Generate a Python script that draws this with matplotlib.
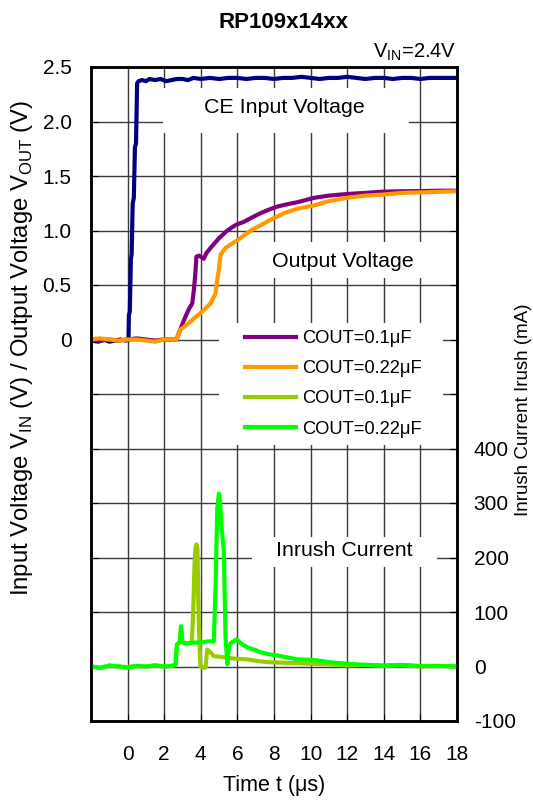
import matplotlib
matplotlib.use("Agg")
import matplotlib.pyplot as plt
from matplotlib.patches import Rectangle
import numpy as np

plt.rcParams["font.family"] = ["Liberation Sans", "DejaVu Sans"]
plt.rcParams["mathtext.fontset"] = "custom"
plt.rcParams["mathtext.rm"] = "Liberation Sans"

# CE input voltage (V)
t_ce = [-2.0, -1.6, -1.3, -1.0, -0.7, -0.4, -0.1, 0.05, 0.07, 0.12, 0.18, 0.22, 0.28, 0.34, 0.40,
        0.46, 0.52, 0.6, 0.8, 1.0, 1.2, 1.5, 1.8, 2.1, 2.4, 2.7, 3.0, 3.3, 3.6, 4.0, 4.5, 5.0,
        5.5, 6.0, 6.5, 7.0, 7.5, 8.0, 8.5, 9.0, 9.5, 10.0, 10.5, 11.0, 11.5, 12.0, 12.5, 13.0,
        13.5, 14.0, 14.5, 15.0, 15.5, 16.0, 16.5, 17.0, 17.5, 18.0]
v_ce = [-0.01, -0.02, 0.0, -0.02, -0.01, 0.0, -0.01, 0.0, 0.22, 0.26, 0.74, 0.78, 1.25, 1.30, 1.76,
        1.80, 2.35, 2.37, 2.38, 2.37, 2.39, 2.38, 2.39, 2.37, 2.38, 2.39, 2.39, 2.38, 2.40, 2.39,
        2.40, 2.39, 2.40, 2.40, 2.39, 2.40, 2.40, 2.39, 2.40, 2.40, 2.41, 2.40, 2.39, 2.40, 2.40,
        2.41, 2.40, 2.39, 2.40, 2.40, 2.39, 2.40, 2.40, 2.39, 2.40, 2.40, 2.40, 2.40]

# Output voltage, COUT=0.1uF (V)
t_out1 = [-2.0, -1.5, -1.0, -0.5, 0.0, 0.5, 1.0, 1.5, 2.0, 2.5, 2.67, 2.9, 3.16, 3.35, 3.53,
          3.62, 3.7, 3.76, 3.9, 4.16, 4.3, 4.53, 5.0, 5.45, 5.9, 6.36, 6.8, 7.28, 7.7, 8.19,
          8.7, 9.29, 10.2, 11.0, 12.0, 13.0, 13.9, 15.0, 16.2, 17.0, 18.0]
v_out1 = [0.0, -0.01, 0.0, -0.01, 0.0, 0.01, 0.0, -0.01, 0.0, 0.0, 0.0, 0.1, 0.21, 0.28, 0.33,
          0.45, 0.6, 0.76, 0.77, 0.74, 0.79, 0.84, 0.93, 1.0, 1.05, 1.08, 1.12, 1.16, 1.19, 1.22,
          1.24, 1.26, 1.30, 1.32, 1.335, 1.345, 1.356, 1.36, 1.362, 1.365, 1.365]

# Output voltage, COUT=0.22uF (V)
t_out2 = [-2.0, -1.5, -1.0, -0.5, 0.0, 0.5, 1.0, 1.5, 2.0, 2.4, 2.67, 2.88, 3.2, 3.61, 4.1,
          4.53, 4.8, 4.9, 4.99, 5.08, 5.35, 5.7, 6.0, 6.4, 6.73, 7.3, 7.83, 8.56, 9.29, 10.2,
          11.0, 12.0, 13.0, 14.0, 15.0, 16.1, 17.0, 18.0]
v_out2 = [0.0, 0.01, 0.0, -0.01, 0.0, 0.0, -0.01, -0.02, 0.0, 0.0, 0.0, 0.09, 0.13, 0.19, 0.26,
          0.33, 0.42, 0.55, 0.64, 0.78, 0.84, 0.88, 0.91, 0.96, 1.0, 1.05, 1.1, 1.16, 1.20, 1.23,
          1.27, 1.30, 1.32, 1.33, 1.345, 1.35, 1.355, 1.36]

# Inrush current, COUT=0.1uF (mA)
t_in1 = [-2.0, -1.5, -1.0, -0.5, 0.0, 0.5, 1.0, 1.5, 2.0, 2.4, 2.62, 2.7, 2.85, 2.92, 3.0, 3.2,
         3.5, 3.56, 3.6, 3.66, 3.72, 3.76, 3.82, 3.86, 3.92, 3.98, 4.1, 4.26, 4.35, 4.53, 4.71,
         5.0, 5.45, 6.0, 6.55, 7.1, 7.64, 8.5, 9.3, 10.0, 11.0, 12.0, 13.0, 14.0, 15.0, 16.0,
         17.0, 18.0]
i_in1 = [0, -2, 1, 0, -1, 1, 0, 2, 0, 1, 3, 40, 45, 72, 45, 42, 44, 80, 117, 190, 221, 224, 215,
         120, 50, 0, -2, -2, 31, 26, 19, 18, 16, 14, 13, 10, 8, 7, 6, 5, 4, 2, 3, 1, 2, 0, 1, 0]

# Inrush current, COUT=0.22uF (mA)
t_in2 = [-2.0, -1.5, -1.0, -0.5, 0.0, 0.5, 1.0, 1.5, 2.0, 2.4, 2.62, 2.7, 2.85, 2.92, 3.0, 3.2,
         3.6, 4.0, 4.4, 4.71, 4.81, 4.9, 4.99, 5.05, 5.12, 5.26, 5.35, 5.45, 5.54, 5.67, 5.8,
         5.96, 6.2, 6.55, 7.0, 7.28, 7.8, 8.37, 9.29, 10.2, 11.0, 12.0, 13.0, 14.0, 15.0, 16.0,
         17.0, 18.0]
i_in2 = [0, -3, 2, 0, -2, 1, 0, 2, 0, 1, 3, 40, 45, 74, 45, 42, 44, 44, 46, 46, 150, 290, 317,
         305, 260, 212, 56, 4, 37, 44, 46, 50, 42, 35, 30, 26, 22, 19, 13, 12, 8, 5, 3, 2, 3, 1,
         1, 0]

x_ticks = [0, 2, 4, 6, 8, 10, 12, 14, 16, 18]
v_tick_vals = [0, 0.5, 1.0, 1.5, 2.0, 2.5]
v_tick_labels = ["0", "0.5", "1.0", "1.5", "2.0", "2.5"]
i_ticks = [-100, 0, 100, 200, 300, 400]
labels = ["COUT=0.1μF", "COUT=0.22μF", "COUT=0.1μF", "COUT=0.22μF"]
colors = ["#800080", "#FF9900", "#99CC00", "#00FF00"]

fig = plt.figure(figsize=(5.33, 8.01), dpi=100)
ax = fig.add_axes([91 / 533, 1 - 721 / 801, 366 / 533, 654 / 801])
ax2 = ax.twinx()

ax.set_xlim(-2, 18)
ax.set_ylim(-3.5, 2.5)
ax2.set_ylim(-100, 1100)

# grid: every 2 us and every 0.5 V
grid_y = np.arange(-3.5, 2.51, 0.5)
ax.set_yticks(grid_y)
ax.set_yticklabels([v_tick_labels[v_tick_vals.index(round(g, 1))] if round(g, 1) in v_tick_vals else ""
                    for g in grid_y])
ax.set_xticks(x_ticks)
ax.set_xticklabels([str(x) for x in x_ticks])
ax.set_axisbelow(True)
ax.grid(True, color="#3a3a3a", linewidth=1.0)
ax.tick_params(axis="y", direction="in", length=5, right=True, labelsize=15, pad=14)
ax.tick_params(axis="x", direction="in", length=5, labelsize=15, pad=17)
ax2.set_yticks(i_ticks)
ax2.set_yticklabels([str(i) for i in i_ticks])
ax2.tick_params(axis="y", direction="in", length=5, labelsize=15, pad=12)
for a in (ax, ax2):
    for s in a.spines.values():
        s.set_linewidth(1.8)

# white label boxes that break the grid
for (x0, y0, x1, y1) in [(1.95, 1.894, 15.4, 2.307), (6.73, 0.564, 18.0, 0.894),
                         (4.97, -0.968, 17.26, 0.151), (6.78, -2.087, 16.93, -1.812)]:
    ax.add_patch(Rectangle((x0, y0), x1 - x0, y1 - y0, facecolor="white", edgecolor="none", zorder=1))

lw = 3.0
ax.plot(t_ce, v_ce, color="#000080", lw=lw, zorder=2)
h1, = ax.plot(t_out1, v_out1, color=colors[0], lw=lw, zorder=2)
h2, = ax.plot(t_out2, v_out2, color=colors[1], lw=lw, zorder=2)
h3, = ax2.plot(t_in1, i_in1, color=colors[2], lw=lw)
h4, = ax2.plot(t_in2, i_in2, color=colors[3], lw=lw)

ax.text(8.59, 2.124, "CE Input Voltage", fontsize=15.4, ha="center", va="center", zorder=3)
ax.text(11.78, 0.72, "Output Voltage", fontsize=15.4, ha="center", va="center", zorder=3)
ax.text(11.83, -1.94, "Inrush Current", fontsize=15.4, ha="center", va="center", zorder=3)

ax2.legend([h1, h2, h3, h4], labels, loc="upper left", frameon=False, fontsize=13.2,
           bbox_to_anchor=(245 / 533, 1 - 330 / 801), bbox_transform=fig.transFigure,
           borderpad=0, borderaxespad=0, handlelength=2.8, handletextpad=0.3, labelspacing=0.72)

fig.text(284 / 533, 1 - 22 / 801, "RP109x14xx", fontsize=16, fontweight="bold", ha="center", va="center")
fig.text(456 / 533, 1 - 52 / 801, r"V$_{\mathregular{IN}}$=2.4V", fontsize=14.5, ha="right", va="center")
fig.text(274 / 533, 1 - 785 / 801, "Time t (μs)", fontsize=15.5, ha="center", va="center")
fig.text(22 / 533, 1 - 348 / 801,
         r"Input Voltage V$_{\mathregular{IN}}$ (V) / Output Voltage V$_{\mathregular{OUT}}$ (V)",
         fontsize=17.2, rotation=90, ha="center", va="center")
fig.text(523 / 533, 1 - 410 / 801, "Inrush Current Irush (mA)", fontsize=13.5, rotation=90,
         ha="center", va="center")

fig.savefig("out.png", dpi=100)
